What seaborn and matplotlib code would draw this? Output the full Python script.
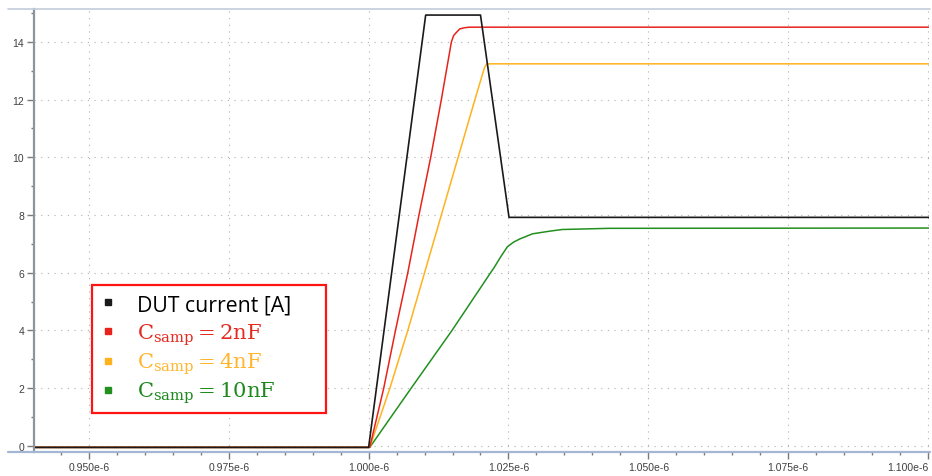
import pandas as pd
import matplotlib
matplotlib.use("Agg")
import matplotlib.pyplot as plt
from matplotlib.lines import Line2D
from matplotlib.patches import Rectangle
from matplotlib.ticker import MultipleLocator, FuncFormatter
import seaborn as sns

# Time axis in microseconds, currents in amperes
dut_t = [0.9402, 1.0000, 1.0102, 1.0200, 1.0251, 1.1002]
dut_i = [-0.05, -0.05, 14.93, 14.93, 7.92, 7.92]

c2_t = [0.9402, 1.0002, 1.0027, 1.0048, 1.0070, 1.0090, 1.0111, 1.0130,
        1.0148, 1.0152, 1.0157, 1.0163, 1.0171, 1.0180, 1.1002]
c2_i = [-0.05, -0.05, 2.0, 4.0, 6.0, 8.0, 10.0, 12.0,
        14.0, 14.22, 14.33, 14.45, 14.49, 14.51, 14.51]

c4_t = [0.9402, 1.0002, 1.0038, 1.0070, 1.0100, 1.0130, 1.0160, 1.0190,
        1.0207, 1.0211, 1.1002]
c4_i = [-0.05, -0.05, 2.0, 4.0, 6.0, 8.0, 10.0, 12.0,
        13.1, 13.24, 13.24]

c10_t = [0.9402, 1.0002, 1.0076, 1.0149, 1.0218, 1.0225, 1.0236, 1.0248,
         1.0259, 1.0270, 1.0293, 1.0323, 1.0346, 1.0430, 1.1002]
c10_i = [-0.05, -0.05, 2.0, 4.0, 6.0, 6.2, 6.55, 6.9,
         7.06, 7.17, 7.35, 7.44, 7.50, 7.54, 7.55]

# x tick positions (microseconds) and y tick values
x_ticks_us = [0.950, 0.975, 1.000, 1.025, 1.050, 1.075, 1.100]
y_ticks = [0, 2, 4, 6, 8, 10, 12, 14]

series_names = ["DUT current [A]", "C_samp = 2nF", "C_samp = 4nF", "C_samp = 10nF"]
legend_labels = ["DUT current [A]",
                 r"$\mathrm{C}_{\mathrm{samp}} = 2\mathrm{nF}$",
                 r"$\mathrm{C}_{\mathrm{samp}} = 4\mathrm{nF}$",
                 r"$\mathrm{C}_{\mathrm{samp}} = 10\mathrm{nF}$"]
line_colors = ["#1a1a1a", "#e8231b", "#ffb21e", "#22901f"]
text_colors = ["#000000", "#e52b20", "#ffb52e", "#1e8a1e"]

frames = []
for name, t, i in zip(series_names, [dut_t, c2_t, c4_t, c10_t], [dut_i, c2_i, c4_i, c10_i]):
    frames.append(pd.DataFrame({"t": [v * 1e-6 for v in t], "i": i, "series": name}))
df = pd.concat(frames, ignore_index=True)

sns.set_theme(style="white")
plt.rcParams["font.family"] = ["Liberation Sans", "DejaVu Sans"]
plt.rcParams["mathtext.fontset"] = "dejavuserif"

W, H = 932, 477
fig = plt.figure(figsize=(W / 100, H / 100), dpi=100)
ax = fig.add_axes([34 / W, (H - 453) / H, (929 - 34) / W, (453 - 10) / H])

palette = dict(zip(series_names, line_colors))
draw_order = series_names[::-1]  # black trace drawn last, on top
for name in draw_order:
    sub = df[df["series"] == name]
    sns.lineplot(data=sub, x="t", y="i", color=palette[name], ax=ax,
                 estimator=None, sort=False, legend=False,
                 linewidth=1.2 if name.startswith("DUT") else 1.1)

ax.set_xlim(0.94018e-6, 1.10018e-6)
ax.set_ylim(-0.21, 15.14)
ax.set_xlabel("")
ax.set_ylabel("")

ax.set_xticks([v * 1e-6 for v in x_ticks_us])
ax.set_xticklabels([f"{v:.3f}e-6" for v in x_ticks_us])
ax.xaxis.set_minor_locator(MultipleLocator(0.005e-6))
ax.set_yticks(y_ticks)
ax.set_yticklabels([str(v) for v in y_ticks])
ax.yaxis.set_minor_locator(MultipleLocator(1))

ax.tick_params(axis="both", which="major", direction="out", length=5, width=1,
               color="#7a7a7a", labelsize=7.5, labelcolor="#404040", pad=2,
               bottom=True, left=True)
ax.tick_params(axis="both", which="minor", direction="out", length=2.5, width=1,
               color="#7a7a7a", bottom=True, left=True)

# keep the last x tick label inside the figure
last_tick = ax.xaxis.get_major_ticks()[-1]
last_tick.label1.set_horizontalalignment("right")

ax.grid(True, which="major", color="#b0b0b0", linestyle=(0, (1, 5)), linewidth=0.8)
ax.set_axisbelow(True)

for side in ["top", "right", "bottom"]:
    ax.spines[side].set_visible(False)
ax.spines["left"].set_color("#8c949c")
ax.spines["left"].set_linewidth(1.6)

# frame lines above and below the plotting area
fig.add_artist(Line2D([8 / W, 930 / W], [1 - 10 / H] * 2, color="#c3ccd9", lw=1.2))
fig.add_artist(Line2D([8 / W, 930 / W], [1 - 453 / H] * 2, color="#a3b6d3", lw=1.6))

# legend: framed box with square markers and coloured labels
box = Rectangle((92 / W, (H - 414) / H), (326 - 92) / W, (414 - 286) / H,
                transform=fig.transFigure, facecolor="white", edgecolor="#ff1414",
                lw=1.6, zorder=1)
fig.add_artist(box)

marker_y = [303.3, 332.3, 361.7, 391.0]
text_base = [311.7, 339.5, 368.5, 397.5]
for k, (lab, lc, tc) in enumerate(zip(legend_labels, line_colors, text_colors)):
    fig.add_artist(Line2D([108 / W], [1 - marker_y[k] / H], marker="s",
                          linestyle="none", color=lc, markersize=4.5, zorder=2))
    if k == 0:
        fig.text(137 / W, 1 - text_base[k] / H, lab, color=tc, fontsize=15.3,
                 family=["Open Sans", "DejaVu Sans"], va="baseline", ha="left",
                 zorder=3)
    else:
        fig.text(137 / W, 1 - text_base[k] / H, lab, color=tc, fontsize=15.2,
                 va="baseline", ha="left", zorder=3)

fig.savefig("out.png", dpi=100)
